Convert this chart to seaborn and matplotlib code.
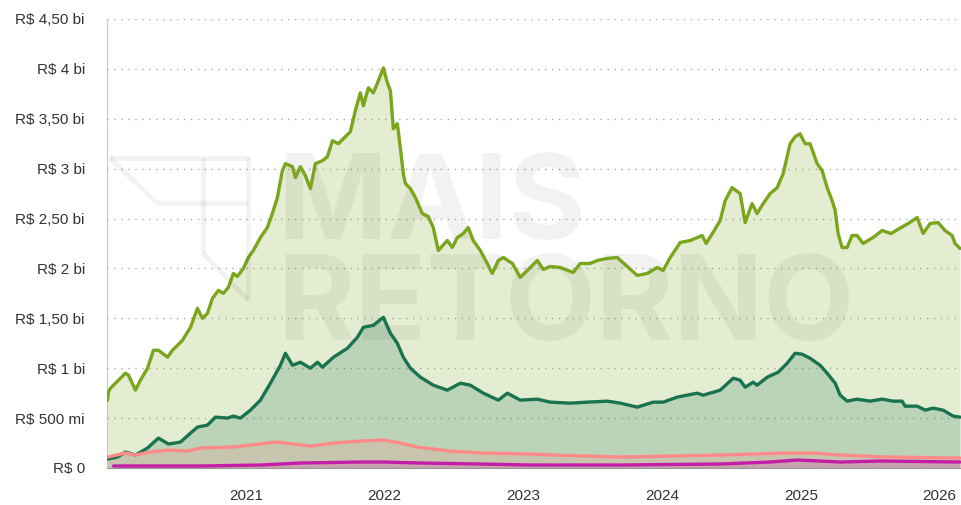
import numpy as np
import pandas as pd
import matplotlib
matplotlib.use("Agg")
import matplotlib.pyplot as plt
import matplotlib.dates as mdates
from matplotlib.lines import Line2D
from matplotlib.ticker import FuncFormatter
import seaborn as sns

# ---------------- data (decimal years, values in R$ bi) ----------------
g1_t = [2020.004, 2020.010, 2020.025, 2020.133, 2020.155, 2020.205, 2020.241, 2020.292, 2020.335, 2020.371,
        2020.436, 2020.472, 2020.544, 2020.602, 2020.652, 2020.688, 2020.724, 2020.760, 2020.803, 2020.839,
        2020.875, 2020.911, 2020.940, 2020.983, 2021.019, 2021.055, 2021.106, 2021.156, 2021.192, 2021.228,
        2021.264, 2021.286, 2021.337, 2021.358, 2021.394, 2021.430, 2021.466, 2021.502, 2021.553, 2021.589,
        2021.625, 2021.668, 2021.718, 2021.754, 2021.790, 2021.826, 2021.848, 2021.884, 2021.920, 2021.956,
        2021.992, 2022.021, 2022.043, 2022.064, 2022.093, 2022.115, 2022.136, 2022.151, 2022.187, 2022.223,
        2022.273, 2022.316, 2022.352, 2022.388, 2022.453, 2022.489, 2022.525, 2022.568, 2022.604, 2022.640,
        2022.691, 2022.741, 2022.777, 2022.821, 2022.857, 2022.922, 2022.979, 2023.030, 2023.102, 2023.145,
        2023.195, 2023.267, 2023.361, 2023.411, 2023.483, 2023.534, 2023.606, 2023.678, 2023.750, 2023.822,
        2023.894, 2023.966, 2024.009, 2024.060, 2024.117, 2024.132, 2024.204, 2024.290, 2024.319, 2024.377,
        2024.420, 2024.456, 2024.506, 2024.564, 2024.600, 2024.650, 2024.686, 2024.730, 2024.780, 2024.831,
        2024.874, 2024.924, 2024.960, 2024.996, 2025.032, 2025.068, 2025.119, 2025.155, 2025.191, 2025.227,
        2025.249, 2025.270, 2025.299, 2025.335, 2025.371, 2025.407, 2025.450, 2025.522, 2025.587, 2025.652,
        2025.724, 2025.775, 2025.840, 2025.883, 2025.933, 2025.991, 2026.041, 2026.092, 2026.113, 2026.149]
g1_v = [0.68, 0.76, 0.80, 0.95, 0.93, 0.78, 0.88, 1.00, 1.18, 1.18,
        1.11, 1.18, 1.28, 1.41, 1.60, 1.50, 1.55, 1.70, 1.78, 1.75,
        1.81, 1.95, 1.92, 2.00, 2.11, 2.18, 2.31, 2.41, 2.55, 2.71,
        2.98, 3.05, 3.02, 2.91, 3.02, 2.93, 2.80, 3.05, 3.08, 3.12,
        3.28, 3.25, 3.32, 3.37, 3.58, 3.76, 3.63, 3.81, 3.76, 3.88,
        4.01, 3.86, 3.78, 3.40, 3.45, 3.20, 2.95, 2.85, 2.80, 2.71,
        2.55, 2.52, 2.41, 2.18, 2.28, 2.21, 2.31, 2.35, 2.41, 2.28,
        2.18, 2.05, 1.95, 2.08, 2.11, 2.05, 1.91, 1.98, 2.08, 1.99,
        2.02, 2.01, 1.96, 2.05, 2.05, 2.08, 2.10, 2.11, 2.02, 1.93,
        1.95, 2.01, 1.98, 2.11, 2.23, 2.26, 2.28, 2.33, 2.25, 2.38,
        2.48, 2.68, 2.81, 2.75, 2.46, 2.65, 2.55, 2.65, 2.75, 2.81,
        2.95, 3.25, 3.32, 3.35, 3.25, 3.25, 3.05, 2.98, 2.81, 2.68,
        2.58, 2.35, 2.21, 2.21, 2.33, 2.33, 2.25, 2.31, 2.38, 2.35,
        2.41, 2.45, 2.51, 2.35, 2.45, 2.46, 2.38, 2.33, 2.25, 2.20]

g2_t = [2020.004, 2020.076, 2020.133, 2020.205, 2020.292, 2020.371, 2020.443, 2020.530, 2020.602, 2020.652,
        2020.724, 2020.782, 2020.868, 2020.911, 2020.962, 2021.034, 2021.106, 2021.178, 2021.250, 2021.286,
        2021.337, 2021.394, 2021.466, 2021.517, 2021.553, 2021.632, 2021.733, 2021.805, 2021.848, 2021.920,
        2021.992, 2022.043, 2022.093, 2022.136, 2022.187, 2022.259, 2022.352, 2022.453, 2022.547, 2022.619,
        2022.713, 2022.821, 2022.886, 2022.979, 2023.102, 2023.195, 2023.339, 2023.462, 2023.606, 2023.700,
        2023.822, 2023.937, 2024.009, 2024.110, 2024.254, 2024.298, 2024.420, 2024.514, 2024.564, 2024.600,
        2024.658, 2024.686, 2024.759, 2024.838, 2024.903, 2024.960, 2025.011, 2025.068, 2025.140, 2025.191,
        2025.249, 2025.285, 2025.335, 2025.407, 2025.501, 2025.587, 2025.667, 2025.731, 2025.753, 2025.840,
        2025.898, 2025.955, 2026.027, 2026.099, 2026.149]
g2_v = [0.09, 0.11, 0.16, 0.13, 0.20, 0.30, 0.24, 0.26, 0.35, 0.41,
        0.43, 0.51, 0.50, 0.52, 0.50, 0.58, 0.68, 0.85, 1.03, 1.15,
        1.03, 1.06, 1.00, 1.06, 1.01, 1.11, 1.20, 1.31, 1.41, 1.43,
        1.51, 1.35, 1.25, 1.11, 1.00, 0.91, 0.83, 0.78, 0.85, 0.83,
        0.75, 0.68, 0.75, 0.68, 0.69, 0.66, 0.65, 0.66, 0.67, 0.65,
        0.61, 0.66, 0.66, 0.71, 0.75, 0.73, 0.78, 0.90, 0.88, 0.81,
        0.86, 0.83, 0.91, 0.96, 1.05, 1.15, 1.14, 1.10, 1.03, 0.95,
        0.85, 0.73, 0.67, 0.69, 0.67, 0.69, 0.67, 0.67, 0.62, 0.62,
        0.58, 0.60, 0.58, 0.52, 0.51]

p_t = [2020.004, 2020.133, 2020.205, 2020.313, 2020.436, 2020.580, 2020.674, 2020.911, 2021.156, 2021.228,
       2021.466, 2021.632, 2021.826, 2021.992, 2022.115, 2022.237, 2022.475, 2022.713, 2023.052, 2023.217,
       2023.700, 2024.060, 2024.420, 2024.658, 2024.903, 2025.090, 2025.285, 2025.623, 2026.149]
p_v = [0.11, 0.15, 0.13, 0.16, 0.18, 0.17, 0.20, 0.21, 0.25, 0.26,
       0.22, 0.25, 0.27, 0.28, 0.25, 0.21, 0.17, 0.15, 0.14, 0.13,
       0.11, 0.12, 0.13, 0.14, 0.15, 0.15, 0.13, 0.11, 0.10]

m_t = [2020.047, 2020.674, 2021.106, 2021.394, 2021.826, 2021.992, 2022.259, 2022.691, 2023.052, 2023.700,
       2024.420, 2024.780, 2024.975, 2025.140, 2025.285, 2025.573, 2026.149]
m_v = [0.02, 0.02, 0.03, 0.05, 0.06, 0.06, 0.05, 0.04, 0.03, 0.03,
       0.04, 0.06, 0.08, 0.07, 0.06, 0.07, 0.06]

year_ticks = [2021, 2022, 2023, 2024, 2025, 2026]
y_ticks = [0, 0.5, 1, 1.5, 2, 2.5, 3, 3.5, 4, 4.5]

colors = ["#7aa51c", "#1a7350", "#ff8a8a", "#c41ea8"]

# ---------------- helpers ----------------
base = pd.Timestamp("2020-01-01")


def to_dates(ts):
    return base + pd.to_timedelta((np.asarray(ts) - 2020.0) * 365.25, unit="D")


series = [(g1_t, g1_v), (g2_t, g2_v), (p_t, p_v), (m_t, m_v)]

sns.set_style("white")
plt.rcParams["font.family"] = ["Liberation Sans", "DejaVu Sans"]

W, H = 961, 505
fig = plt.figure(figsize=(W / 100, H / 100), dpi=100)
ax = fig.add_axes([107 / W, 37 / H, 854 / W, 449 / H])

for i, ((t, v), c) in enumerate(zip(series, colors)):
    d = to_dates(t)
    df = pd.DataFrame({"date": d, "value": v})
    ax.fill_between(df["date"], 0, df["value"], color=c, alpha=0.2, lw=0, zorder=2 + i * 0.1)
    sns.lineplot(data=df, x="date", y="value", ax=ax, color=c, lw=2.4, zorder=5 + i * 0.1)

# watermark (brand text + outline logo)
for txt, yy in [("MAIS", 0.510), ("RETORNO", 0.285)]:
    ax.text(0.199, yy, txt, transform=ax.transAxes, fontsize=85, fontweight="bold",
            family="Inter", color="black", alpha=0.05, zorder=3, va="baseline", ha="left")

logo_segments = [((110, 158), (250, 158)), ((248, 158), (248, 300)), ((110, 158), (157, 203)),
                 ((157, 203), (248, 203)), ((203, 158), (203, 253)), ((203, 253), (248, 300))]
for (x0, y0), (x1, y1) in logo_segments:
    fig.add_artist(Line2D([x0 / W, x1 / W], [1 - y0 / H, 1 - y1 / H], transform=fig.transFigure,
                          color="black", alpha=0.05, lw=3.5, zorder=3, solid_capstyle="butt"))

ax.set_xlim(pd.Timestamp("2020-01-01"), to_dates([2026.156])[0])
ax.set_ylim(0, 4.5)


def yfmt(v, pos):
    if abs(v) < 1e-9:
        return "R$ 0"
    if v < 1:
        return f"R$ {int(round(v * 1000))} mi"
    if abs(v - round(v)) < 1e-9:
        return f"R$ {int(round(v))} bi"
    return "R$ " + f"{v:.2f}".replace(".", ",") + " bi"


ax.set_yticks(y_ticks)
ax.yaxis.set_major_formatter(FuncFormatter(yfmt))
ax.set_xticks([pd.Timestamp(f"{y}-01-01") for y in year_ticks])
ax.set_xticklabels([str(y) for y in year_ticks])
ax.xaxis.set_minor_locator(mdates.MonthLocator())

ax.tick_params(axis="y", length=0, pad=16, labelsize=11, labelcolor="#333333")
ax.tick_params(axis="x", which="major", length=9, width=1, color="#555555", pad=6,
               labelsize=11, labelcolor="#333333")
ax.tick_params(axis="x", which="minor", length=2.5, width=0.8, color="#aaaaaa")

ax.grid(axis="y", color="#aaaaaa", linestyle=(0, (1, 4)), lw=1)
ax.grid(axis="x", visible=False)
ax.set_axisbelow(True)
for s in ["top", "right"]:
    ax.spines[s].set_visible(False)
ax.spines["left"].set_color("#c8c8c8")
ax.spines["bottom"].set_color("#999999")
ax.set_xlabel("")
ax.set_ylabel("")

fig.savefig("out.png", dpi=100)
